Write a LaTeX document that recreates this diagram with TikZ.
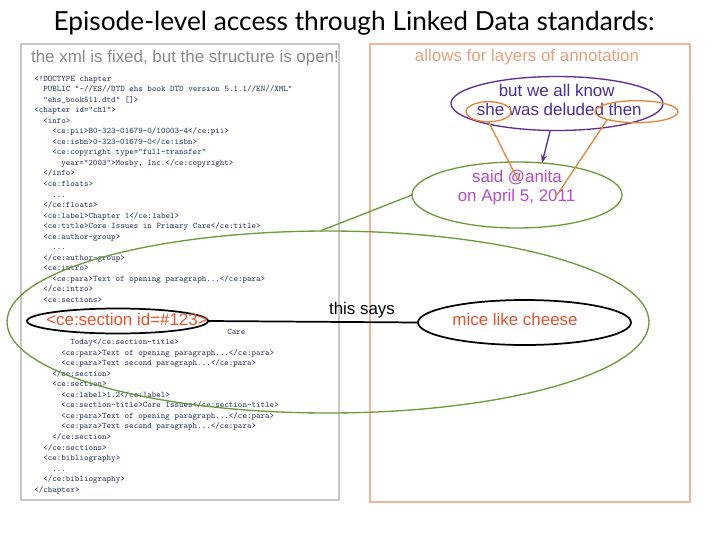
\documentclass[tikz,border=0pt]{standalone}
\usepackage{fontspec}
\setmainfont{Liberation Sans}
\newfontfamily\titlefont{Lato}
\newfontfamily\codefont{lmmono8-regular.otf}
\usetikzlibrary{arrows.meta,shapes.geometric}
\definecolor{codeblue}{HTML}{2E3862}
\definecolor{boxgray}{HTML}{C8C8C8}
\definecolor{headgray}{HTML}{8A8A8A}
\definecolor{headorange}{HTML}{EBA07E}
\definecolor{boxorange}{HTML}{F2B396}
\definecolor{ellpurple}{HTML}{5E2D91}
\definecolor{txtpurple}{HTML}{4A2D96}
\definecolor{ellorange}{HTML}{E8853A}
\definecolor{ellgreen}{HTML}{6E9B3E}
\definecolor{txtmagenta}{HTML}{B64CC8}
\definecolor{labelred}{HTML}{E4532E}
\tikzset{
  code/.style={anchor=west, inner sep=0pt, text=codeblue,
    font=\codefont\fontsize{6.4}{7}\selectfont, text height=4.5pt, text depth=1.3pt},
  sans/.style={anchor=base, inner sep=0pt, font=\fontsize{12.7}{15}\selectfont},
  ell/.style={ellipse, inner sep=0pt, outer sep=0pt},
}
\newcommand\codeln[3]{\node[code] (c#1) at ({34+9*#2},{79+10.54*#1}) {#3};}
\begin{document}
\begin{tikzpicture}[x=0.75pt,y=-0.75pt]
\useasboundingbox (0,0) rectangle (728,546);
\fill[white] (0,0) rectangle (728,546);
% title
\node[anchor=base, inner sep=0pt, font=\titlefont\fontsize{19.7}{22}\selectfont] (title) at (354,31) {Episode-level access through Linked Data standards:};
% boxes
\draw[boxgray, line width=0.9pt] (21,44) rectangle (339,500);
\draw[boxorange, line width=0.9pt] (370,44) rectangle (690,502);
\node[sans, text=headgray] (hl) at (185,62.5) {the xml is fixed, but the structure is open!};
\node[sans, text=headorange] (hr) at (527,61) {allows for layers of annotation};
% code
\codeln{0}{0}{<!DOCTYPE chapter}
\codeln{1}{1}{PUBLIC "-//ES//DTD ehs book DTD version 5.1.1//EN//XML"}
\codeln{2}{1}{"ehs\_book511.dtd" []>}
\codeln{3}{0}{<chapter id="ch1">}
\codeln{4}{1}{<info>}
\codeln{5}{2}{<ce:pii>B0-323-01679-0/10003-4</ce:pii>}
\codeln{6}{2}{<ce:isbn>0-323-01679-0</ce:isbn>}
\codeln{7}{2}{<ce:copyright type="full-transfer"}
\codeln{8}{3}{year="2003">Mosby, Inc.</ce:copyright>}
\codeln{9}{1}{</info>}
\codeln{10}{1}{<ce:floats>}
\codeln{11}{2}{...}
\codeln{12}{1}{</ce:floats>}
\codeln{13}{1}{<ce:label>Chapter 1</ce:label>}
\codeln{14}{1}{<ce:title>Core Issues in Primary Care</ce:title>}
\codeln{15}{1}{<ce:author-group>}
\codeln{16}{2}{...}
\codeln{17}{1}{</ce:author-group>}
\codeln{18}{1}{<ce:intro>}
\codeln{19}{2}{<ce:para>Text of opening paragraph...</ce:para>}
\codeln{20}{1}{</ce:intro>}
\codeln{21}{1}{<ce:sections>}
\node[code] (c24) at (227,{79+10.54*24}) {Care};
\codeln{25}{4}{Today</ce:section-title>}
\codeln{26}{3}{<ce:para>Text of opening paragraph...</ce:para>}
\codeln{27}{3}{<ce:para>Text second paragraph...</ce:para>}
\codeln{28}{2}{</ce:section>}
\codeln{29}{2}{<ce:section>}
\codeln{30}{3}{<ce:label>1.2</ce:label>}
\codeln{31}{3}{<ce:section-title>Core Issues</ce:section-title>}
\codeln{32}{3}{<ce:para>Text of opening paragraph...</ce:para>}
\codeln{33}{3}{<ce:para>Text second paragraph...</ce:para>}
\codeln{34}{2}{</ce:section>}
\codeln{35}{1}{</ce:sections>}
\codeln{36}{1}{<ce:bibliography>}
\codeln{37}{2}{...}
\codeln{38}{1}{</ce:bibliography>}
\codeln{39}{0}{</chapter>}
% big green ellipse
\node[ell, draw=ellgreen, line width=1pt, minimum width=481.5pt, minimum height=136.5pt] (bigell) at (328,322) {};
% small green ellipse
\node[ell, draw=ellgreen, line width=1pt, minimum width=157.5pt, minimum height=49.5pt] (gsmall) at (517,195) {};
\node[sans, text=txtmagenta] (gt1) at (517,182.3) {said @anita};
\node[sans, text=txtmagenta] (gt2) at (516.5,201.7) {on April 5, 2011};
\draw[ellgreen, line width=1pt] (bigell.95) -- (gsmall.west);
% purple ellipse
\node[ell, draw=ellpurple, line width=1pt, minimum width=159pt, minimum height=40.5pt] (purpell) at (557,103.5) {};
\node[sans, text=txtpurple] (pt1) at (556.7,96) {but we all know};
\node[sans, text=txtpurple] (pt2) at (559.3,115.7) {she was deluded then};
\draw[ellpurple, line width=1pt, -{Stealth[length=6pt,width=4.5pt]}] (purpell.256) -- (gsmall.52);
% orange ellipses and lines
\node[ell, draw=ellorange, line width=1pt, minimum width=33.75pt, minimum height=15pt] (sheell) at (488.5,111.7) {};
\node[ell, draw=ellorange, line width=1pt, minimum width=62.25pt, minimum height=16.5pt] (thenell) at (636.5,111.7) {};
\coordinate (at1) at (518,180);
\coordinate (at2) at (557,195);
\draw[ellorange, line width=1pt] (sheell.south) -- (at1);
\draw[ellorange, line width=1pt] (thenell.195) -- (at2);
% section label
\node[ell, draw=black, line width=1.3pt, minimum width=135.75pt, minimum height=18.75pt] (secell) at (117.5,321) {};
\node[sans, text=labelred] (seclabel) at (127,325.7) {<ce:section id=\#123>};
% mice
\node[ell, draw=black, line width=1.3pt, minimum width=159.75pt, minimum height=33.75pt] (miceell) at (524.5,322.5) {};
\node[sans, text=labelred] (micetxt) at (515,325.7) {mice like cheese};
\draw[black, line width=1.3pt] (secell.east) -- (miceell.west);
\node[sans, text=black] (says) at (362,314) {this says};
\end{tikzpicture}
\end{document}
